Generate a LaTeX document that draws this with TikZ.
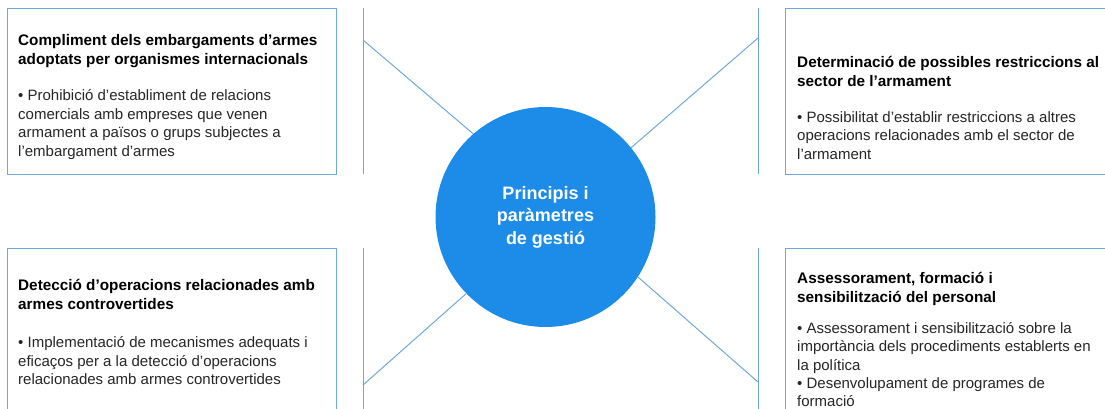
\documentclass[tikz,border=0pt]{standalone}
\usepackage{fontspec}
\setmainfont{Liberation Sans}
\definecolor{lineblue}{RGB}{110,168,218}
\definecolor{circblue}{RGB}{28,140,232}
\definecolor{bodygray}{RGB}{38,38,38}
\begin{document}
\begin{tikzpicture}[x=1pt,y=-1pt,
 box/.style={draw=lineblue, line width=1.2pt, fill=white, anchor=north west, inner sep=0pt, minimum width=329pt, minimum height=166pt},
 conn/.style={draw=lineblue, line width=1pt},
 ttl/.style={anchor=north west, inner sep=0pt, align=left, font=\bfseries\fontsize{15.3}{19}\selectfont},
 bodytxt/.style={anchor=north west, inner sep=0pt, align=left, text=bodygray, font=\fontsize{15}{18.8}\selectfont},
 hub/.style={circle, fill=circblue, minimum size=220pt, inner sep=0pt, text=white, align=center, font=\bfseries\fontsize{18}{22.5}\selectfont}]
\useasboundingbox (0,0) rectangle (1105,409);
\clip (0,0) rectangle (1105,409);
% boxes
\node[box] (b1) at (7,8) {};
\node[box] (b2) at (785,8) {};
\node[box] (b3) at (7,248) {};
\node[box] (b4) at (785,248) {};
% vertical lines
\coordinate (v1t) at (363,8);   \coordinate (v1b) at (363,174);
\coordinate (v2t) at (758,8);   \coordinate (v2b) at (758,174);
\coordinate (v3t) at (363,248); \coordinate (v3b) at (363,420);
\coordinate (v4t) at (758,248); \coordinate (v4b) at (758,420);
\draw[conn] (v1t) -- (v1b);
\draw[conn] (v2t) -- (v2b);
\draw[conn] (v3t) -- (v3b);
\draw[conn] (v4t) -- (v4b);
% hub
\node[hub] (hub) at (545.5,217) {Principis i\\paràmetres\\de gestió};
% diagonals
\coordinate (d1) at (363,40);
\coordinate (d2) at (758,38);
\coordinate (d3) at (363,385);
\coordinate (d4) at (758,382);
\draw[conn] (d1) -- (hub.131);
\draw[conn] (d2) -- (hub.39);
\draw[conn] (d3) -- (hub.-136);
\draw[conn] (d4) -- (hub.-33);
% texts
\node[ttl] (t1) at (18,34) {Compliment dels embargaments d’armes\\adoptats per organismes internacionals};
\node[bodytxt] (p1) at (18,89) {• Prohibició d’establiment de relacions\\comercials amb empreses que venen\\armament a països o grups subjectes a\\l’embargament d’armes};
\node[ttl] (t2) at (797,56) {Determinació de possibles restriccions al\\sector de l’armament};
\node[bodytxt] (p2) at (797,111) {• Possibilitat d’establir restriccions a altres\\operacions relacionades amb el sector de\\l’armament};
\node[ttl] (t3) at (18,279) {Detecció d’operacions relacionades amb\\armes controvertides};
\node[bodytxt] (p3) at (18,336) {• Implementació de mecanismes adequats i\\eficaços per a la detecció d’operacions\\relacionades amb armes controvertides};
\node[ttl] (t4) at (797,272) {Assessorament, formació i\\sensibilització del personal};
\node[bodytxt, font=\fontsize{15}{18.4}\selectfont] (p4) at (797,322) {• Assessorament i sensibilització sobre la\\importància dels procediments establerts en\\la política\\• Desenvolupament de programes de\\formació};
\end{tikzpicture}
\end{document}
